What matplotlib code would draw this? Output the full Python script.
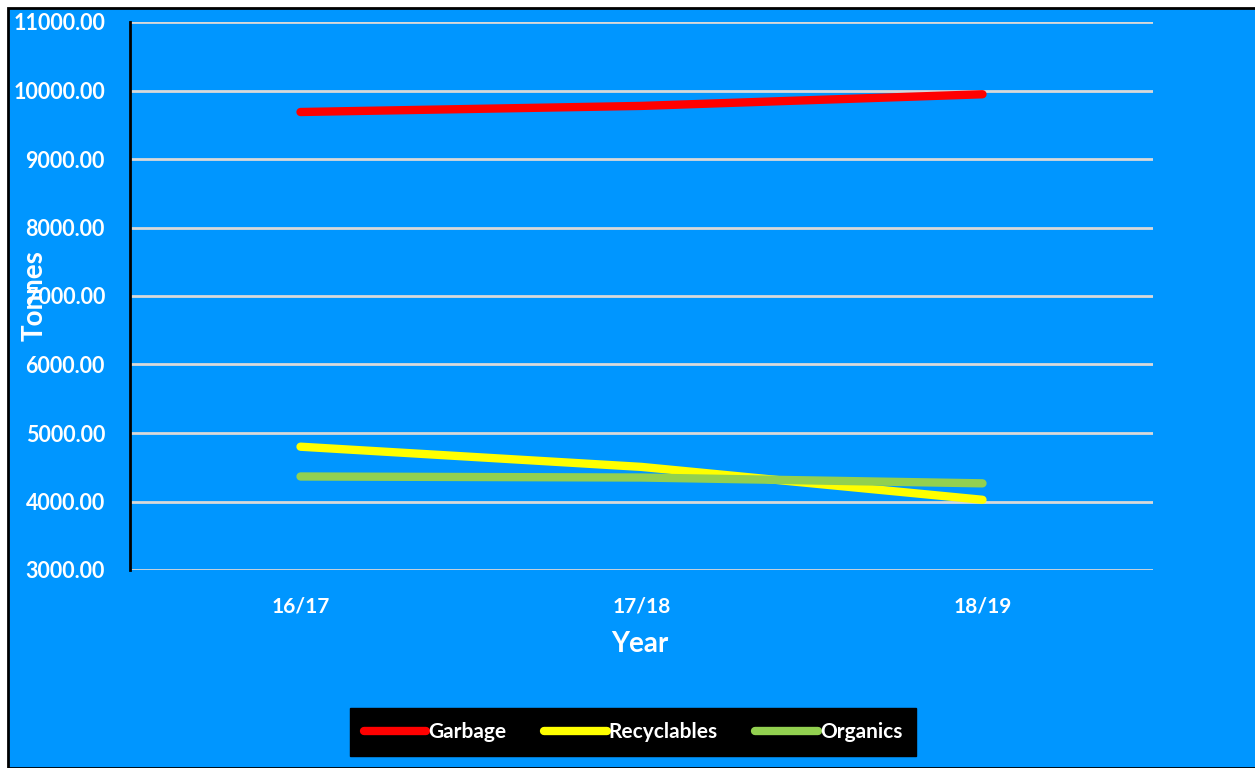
import matplotlib
matplotlib.use("Agg")
import matplotlib.pyplot as plt
from matplotlib.patches import Rectangle
from matplotlib.ticker import FuncFormatter, MultipleLocator

years = ["16/17", "17/18", "18/19"]
garbage = [9686, 9775, 9945]
recyclables = [4800, 4505, 4025]
organics = [4365, 4350, 4265]

BG = "#0096FF"
FONT = "Lato"

fig = plt.figure(figsize=(12.55, 7.68), dpi=100)
fig.patch.set_facecolor("white")
# blue panel with black border on top/left
fig.patches.append(Rectangle((8/1255, 0), 1.0, 1 - 8/768, transform=fig.transFigure,
                             facecolor=BG, edgecolor="black", linewidth=2, zorder=-5))

ax = fig.add_axes([130/1255, 1 - 570/768, (1153-130)/1255, (570-22)/768])
ax.set_zorder(2)
ax.set_facecolor(BG)
x = range(len(years))
ax.plot(x, garbage, color="#FF0000", lw=6, solid_capstyle="round", label="Garbage", zorder=3)
ax.plot(x, recyclables, color="#FFFF00", lw=6, solid_capstyle="round", label="Recyclables", zorder=3)
ax.plot(x, organics, color="#92D050", lw=6, solid_capstyle="round", label="Organics", zorder=3)

ax.set_xlim(-0.5, 2.5)
ax.set_ylim(3000, 11000)
ax.yaxis.set_major_locator(MultipleLocator(1000))
ax.yaxis.set_major_formatter(FuncFormatter(lambda v, p: f"{v:.2f}"))
ax.set_xticks(list(x))
ax.set_xticklabels(years)
ax.grid(axis="y", color="#D9D9D9", lw=2)
ax.set_axisbelow(True)
for s in ["top", "right", "bottom"]:
    ax.spines[s].set_visible(False)
ax.spines["left"].set_color("black")
ax.spines["left"].set_linewidth(2)
ax.tick_params(axis="both", length=0, colors="white")
ax.tick_params(axis="y", pad=18)
ax.tick_params(axis="x", pad=19)
for lab in ax.get_yticklabels():
    lab.set_fontfamily(FONT); lab.set_fontweight("bold"); lab.set_fontsize(15.5)
for lab in ax.get_xticklabels():
    lab.set_fontfamily(FONT); lab.set_fontweight("bold"); lab.set_fontsize(15)

fig.text(35/1255, 1 - 296/768, "Tonnes", rotation=90, ha="center", va="center",
         color="white", fontsize=20, fontweight="bold", family=FONT, zorder=5)
fig.text(640/1255, 1 - 644/768, "Year", ha="center", va="center",
         color="white", fontsize=20, fontweight="bold", family=FONT)

leg = fig.legend(loc="center", bbox_to_anchor=(633/1255, 1 - 732/768), ncol=3,
                 frameon=True, fancybox=False, facecolor="black", edgecolor="black",
                 framealpha=1, handlelength=3.0, handletextpad=0.1, columnspacing=1.8,
                 prop={"family": FONT, "weight": "bold", "size": 15}, borderpad=0.65)
for t in leg.get_texts():
    t.set_color("white")
for h in leg.get_lines():
    h.set_linewidth(6)

fig.savefig("out.png", dpi=100, facecolor=fig.get_facecolor())
